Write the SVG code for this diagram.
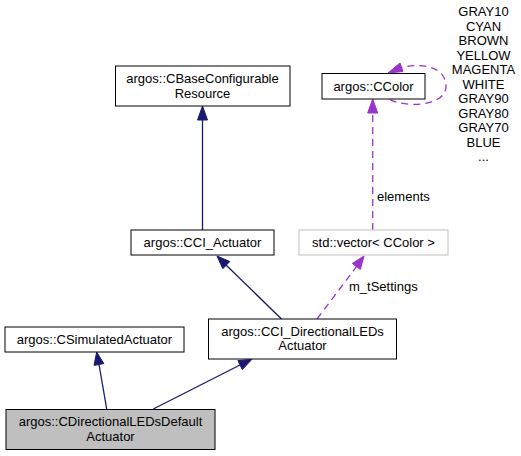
<svg xmlns="http://www.w3.org/2000/svg" width="521" height="456" viewBox="0 0 521 456">
<style>
text{font-family:"Liberation Sans",Arial,sans-serif;font-size:13px;fill:#000;text-anchor:middle}
.lbl{text-anchor:start}
.box{fill:#fff;stroke:#000;stroke-width:1}
.ext{fill:#fff;stroke:#bfbfbf;stroke-width:1}
.cur{fill:#bfbfbf;stroke:#000;stroke-width:1}
.inh{stroke:#191970;stroke-width:1.3;fill:none}
.inhh{fill:#191970;stroke:#191970}
.use{stroke:#9a32cd;stroke-width:1.3;fill:none;stroke-dasharray:7,5}
.useh{fill:#9a32cd;stroke:#9a32cd}
</style>
<rect width="521" height="456" fill="#fff"/>
<g id="edges">
<line class="inh" x1="202.5" y1="230" x2="202.5" y2="119"/>
<polygon class="inhh" points="197.5,120 202.5,106 207.5,120"/>
<line class="inh" x1="281.5" y1="319" x2="226" y2="265"/>
<polygon class="inhh" points="229.8,261.5 217,256 222.8,268.7"/>
<line class="use" x1="317" y1="319" x2="357" y2="266"/>
<polygon class="useh" points="360.3,269.4 364,256 352.3,263.4"/>
<line class="use" x1="372.7" y1="230" x2="372.7" y2="113"/>
<polygon class="useh" points="367.7,113 372.7,99 377.7,113"/>
<path class="use" d="M390,99.5 C402,107 446,108 446,86 C446,68 424,62 402,67.5"/>
<polygon class="useh" points="400,63 388,73 403,71.5"/>
<line class="inh" x1="106.7" y1="409" x2="99" y2="364.5"/>
<polygon class="inhh" points="103.8,363.6 96.7,352 94,365.4"/>
<line class="inh" x1="153.3" y1="409" x2="240" y2="365"/>
<polygon class="inhh" points="242.3,369.6 251.7,359.5 237.9,360.6"/>
</g>
<g id="labels">
<text class="lbl" x="349" y="291">m_tSettings</text>
<text class="lbl" x="377" y="201">elements</text>
<text x="483.5" y="16">GRAY10</text>
<text x="483.5" y="30.5">CYAN</text>
<text x="483.5" y="45">BROWN</text>
<text x="483.5" y="59.5">YELLOW</text>
<text x="483.5" y="74">MAGENTA</text>
<text x="483.5" y="88.5">WHITE</text>
<text x="483.5" y="103">GRAY90</text>
<text x="483.5" y="117.5">GRAY80</text>
<text x="483.5" y="132">GRAY70</text>
<text x="483.5" y="146.5">BLUE</text>
<text x="483.5" y="161">...</text>
</g>
<g id="CBaseConfigurableResource">
<rect class="box" x="115.5" y="66" width="174.5" height="40"/>
<text x="202.5" y="82.5">argos::CBaseConfigurable</text>
<text x="202.5" y="97.5">Resource</text>
</g>
<g id="CColor">
<rect class="box" x="322" y="73.5" width="103" height="25.5"/>
<text x="373.5" y="90.5">argos::CColor</text>
</g>
<g id="CCI_Actuator">
<rect class="box" x="131" y="230" width="143" height="25"/>
<text x="202.5" y="247">argos::CCI_Actuator</text>
</g>
<g id="vector">
<rect class="ext" x="299" y="230" width="149" height="25"/>
<text x="373.5" y="247">std::vector&lt; CColor &gt;</text>
</g>
<g id="CSimulatedActuator">
<rect class="box" x="5" y="327" width="179" height="25"/>
<text x="94.5" y="344">argos::CSimulatedActuator</text>
</g>
<g id="CCI_DirectionalLEDsActuator">
<rect class="box" x="208.5" y="319" width="188" height="40"/>
<text x="302.5" y="336">argos::CCI_DirectionalLEDs</text>
<text x="302.5" y="349.5">Actuator</text>
</g>
<g id="CDirectionalLEDsDefaultActuator">
<rect class="cur" x="6" y="409.5" width="209" height="40"/>
<text x="110.5" y="426">argos::CDirectionalLEDsDefault</text>
<text x="110.5" y="440.5">Actuator</text>
</g>
</svg>
